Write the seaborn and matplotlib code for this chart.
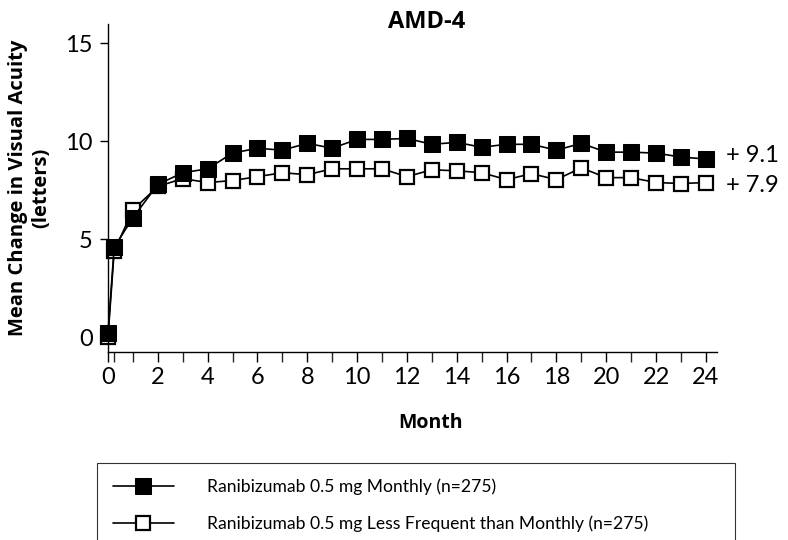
import numpy as np
import pandas as pd
import matplotlib.pyplot as plt
import seaborn as sns

# Data
months = [0, 0.25, 1, 2, 3, 4, 5, 6, 7, 8, 9, 10, 11, 12, 13, 14, 15, 16, 17, 18, 19, 20, 21, 22, 23, 24]
monthly = [0.2, 4.6, 6.1, 7.8, 8.4, 8.6, 9.4, 9.65, 9.55, 9.9, 9.65, 10.1, 10.1, 10.15,
           9.85, 9.95, 9.7, 9.85, 9.85, 9.55, 9.9, 9.45, 9.45, 9.4, 9.2, 9.1]
less_freq = [0.0, 4.4, 6.5, 7.7, 8.1, 7.9, 8.0, 8.2, 8.4, 8.3, 8.6, 8.6, 8.6, 8.2,
             8.55, 8.5, 8.4, 8.05, 8.35, 8.05, 8.65, 8.15, 8.15, 7.9, 7.85, 7.9]
labels = ["Ranibizumab 0.5 mg Monthly (n=275)",
          "Ranibizumab 0.5 mg Less Frequent than Monthly (n=275)"]

df = pd.DataFrame({"Month": months, labels[0]: monthly, labels[1]: less_freq})

sns.set_style("ticks")
plt.rcParams['font.family'] = ['Lato', 'DejaVu Sans']
plt.rcParams['text.color'] = 'black'
plt.rcParams['axes.labelcolor'] = 'black'
bold = ['Open Sans', 'DejaVu Sans']

fig = plt.figure(figsize=(7.88, 5.4), dpi=100)
ax = fig.add_axes([0.137, 0.348, 0.773, 0.608])

sns.lineplot(data=df, x="Month", y=labels[1], ax=ax, color="black", lw=1.2,
             marker="s", markersize=10.5, markerfacecolor="white", markeredgecolor="black",
             markeredgewidth=1.6, label=labels[1], zorder=2, clip_on=False)
sns.lineplot(data=df, x="Month", y=labels[0], ax=ax, color="black", lw=1.2,
             marker="s", markersize=12, markerfacecolor="black", markeredgecolor="black",
             label=labels[0], zorder=3, clip_on=False)

ax.set_xlim(0, 24.45)
ax.set_ylim(-0.75, 16)
ax.set_xticks(range(0, 25, 2))
ax.set_xticks([0.25] + list(range(1, 25)), minor=True)
ax.set_yticks([0, 5, 10, 15])
ax.tick_params(axis='both', labelsize=17, length=7, width=1, direction='out', colors='black')
ax.tick_params(axis='x', which='minor', length=7, width=1)
ax.tick_params(axis='y', length=6, pad=5)
sns.despine(ax=ax)
for s in ['left', 'bottom']:
    ax.spines[s].set_linewidth(1)
    ax.spines[s].set_color('black')

fig.text(427 / 788, 1 - 22 / 540, "AMD-4", fontsize=17, fontweight='bold', family=bold,
         ha='center', va='center')
ax.set_xlabel("Month", fontsize=14, fontweight='bold', family=bold)
ax.xaxis.set_label_coords(0.53, -0.185)
ax.set_ylabel("Mean Change in Visual Acuity\n(letters)", fontsize=14.5, fontweight='bold',
              family=bold, labelpad=10, linespacing=1.25)

ax.text(24.8, 9.3, "+ 9.1", fontsize=17, va='center', ha='left', clip_on=False)
ax.text(24.8, 7.75, "+ 7.9", fontsize=17, va='center', ha='left', clip_on=False)

handles, labs = ax.get_legend_handles_labels()
ax.get_legend().remove()
order = [labs.index(labels[0]), labs.index(labels[1])]
leg = fig.legend([handles[i] for i in order], [labs[i] for i in order],
                 loc='upper left', bbox_to_anchor=(97 / 788, 1 - 463 / 540, 638 / 788, 0.0),
                 mode='expand', fontsize=12.6, frameon=True, fancybox=False,
                 edgecolor='black', handlelength=3.5, borderpad=0.9, labelspacing=1.15,
                 handletextpad=1.9, borderaxespad=0)
leg.get_frame().set_linewidth(0.8)

fig.savefig("out.png", dpi=100)
